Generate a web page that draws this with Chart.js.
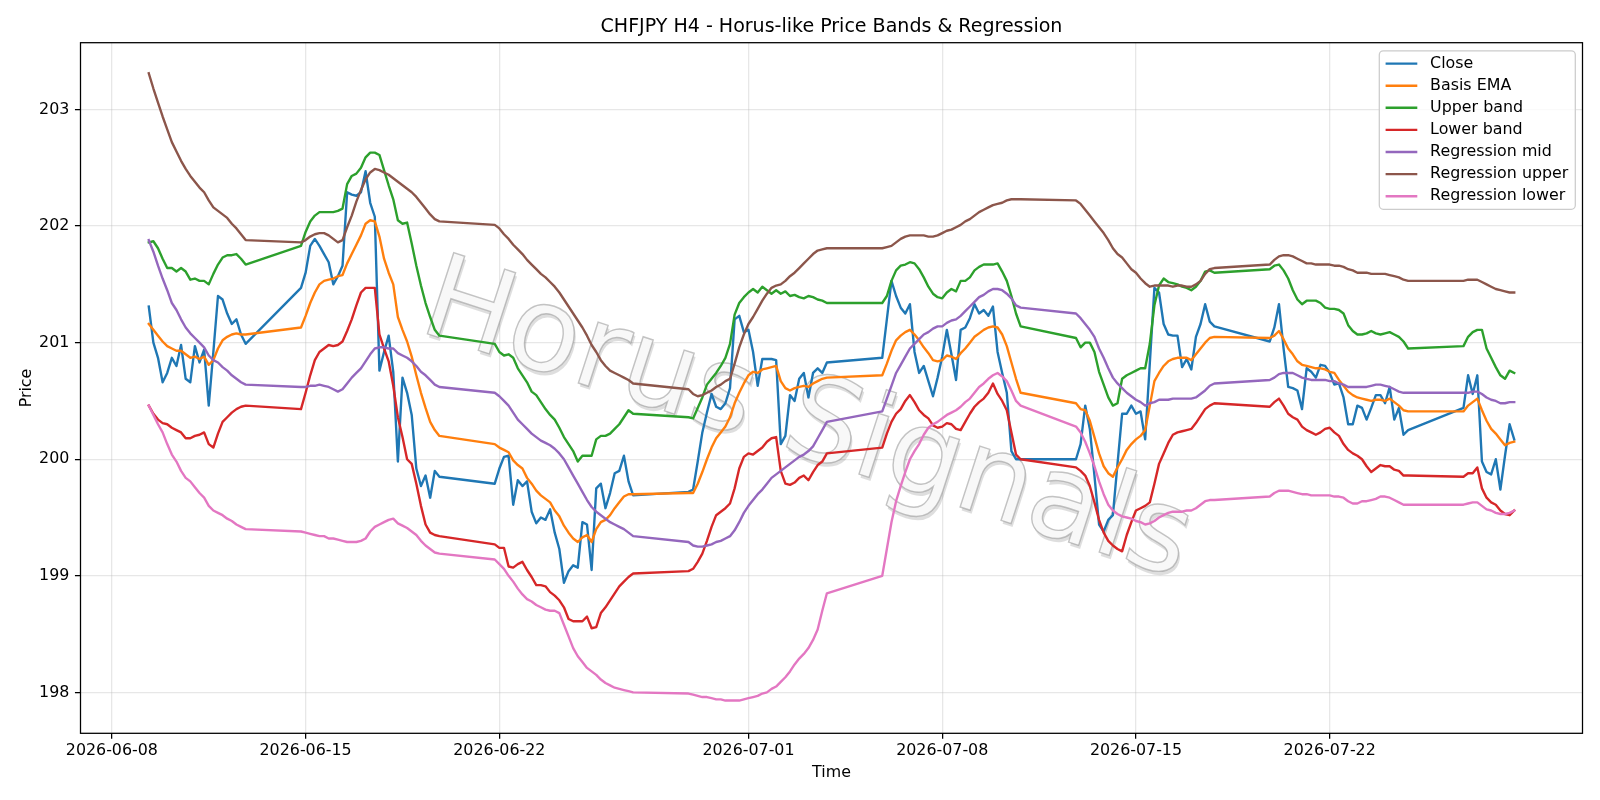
<!DOCTYPE html>
<html lang="en">
<head>
<meta charset="utf-8">
<title>CHFJPY H4 - Horus-like Price Bands &amp; Regression</title>
<script src="https://cdn.jsdelivr.net/npm/chart.js@4.4.1/dist/chart.umd.min.js"></script>
<style>
  html, body { margin: 0; padding: 0; background: #ffffff; }
  #box { width: 1600px; height: 800px; }
</style>
</head>
<body>
<div id="box"><canvas id="chart" width="1600" height="800"></canvas></div>
<script>
// H4 bars: every trading session starts at this time and has this many bars
const sessionStarts = ['2026-06-09 08:00', '2026-06-14 20:00', '2026-06-21 20:00', '2026-06-28 20:00',
                       '2026-07-05 20:00', '2026-07-12 20:00', '2026-07-19 20:00', '2026-07-26 20:00'];
const sessionBars = [22, 31, 31, 31, 31, 31, 31, 12];

const xTickLabels = ['2026-06-08', '2026-06-15', '2026-06-22', '2026-07-01', '2026-07-08', '2026-07-15', '2026-07-22'];
const yTickValues = [198, 199, 200, 201, 202, 203];

// one line per trading week
const close = [
  201.31, 201.00, 200.87, 200.66, 200.74, 200.87, 200.80, 200.98, 200.69, 200.66, 200.97, 200.83, 200.94, 200.46, 200.92, 201.40, 201.37, 201.25, 201.16, 201.20, 201.07, 200.99,
  201.47, 201.60, 201.83, 201.89, 201.83, 201.76, 201.69, 201.50, 201.57, 201.66, 202.29, 202.27, 202.26, 202.29, 202.47, 202.20, 202.08, 200.76, 200.92, 201.06, 200.75, 199.98, 200.70, 200.57, 200.38, 199.92, 199.77, 199.86, 199.67, 199.90, 199.85,
  199.79, 199.92, 200.02, 200.03, 199.61, 199.82, 199.77, 199.81, 199.55, 199.45, 199.50, 199.48, 199.57, 199.37, 199.23, 198.94, 199.04, 199.09, 199.07, 199.46, 199.44, 199.05, 199.75, 199.79, 199.58, 199.71, 199.88, 199.90, 200.03, 199.81, 199.69,
  199.72, 199.74, 199.98, 200.23, 200.40, 200.56, 200.45, 200.43, 200.48, 200.61, 201.20, 201.23, 201.09, 201.11, 200.92, 200.63, 200.86, 200.86, 200.86, 200.85, 200.13, 200.20, 200.55, 200.50, 200.69, 200.74, 200.53, 200.74, 200.78, 200.74, 200.83,
  200.87, 201.20, 201.53, 201.40, 201.30, 201.25, 201.33, 200.92, 200.74, 200.80, 200.67, 200.54, 200.70, 200.88, 201.11, 200.90, 200.68, 201.11, 201.13, 201.21, 201.33, 201.25, 201.28, 201.23, 201.31, 200.92, 200.74, 200.57, 200.07, 200.00, 200.00,
  200.00, 200.13, 200.46, 200.26, 199.86, 199.44, 199.38, 199.48, 199.52, 199.96, 200.39, 200.39, 200.46, 200.39, 200.41, 200.17, 200.82, 201.47, 201.43, 201.16, 201.07, 201.06, 201.06, 200.79, 200.86, 200.77, 201.05, 201.16, 201.33, 201.18, 201.14,
  201.01, 201.13, 201.33, 200.95, 200.62, 200.61, 200.59, 200.43, 200.78, 200.75, 200.70, 200.81, 200.80, 200.74, 200.64, 200.65, 200.53, 200.30, 200.30, 200.46, 200.44, 200.34, 200.44, 200.55, 200.55, 200.48, 200.62, 200.34, 200.44, 200.21, 200.25,
  200.44, 200.72, 200.56, 200.72, 199.98, 199.89, 199.87, 200.00, 199.74, 200.03, 200.30, 200.17
];
const basisEma = [
  201.16, 201.11, 201.06, 201.01, 200.97, 200.95, 200.93, 200.93, 200.90, 200.87, 200.88, 200.86, 200.88, 200.81, 200.85, 200.95, 201.02, 201.05, 201.07, 201.08, 201.07, 201.07,
  201.13, 201.23, 201.34, 201.43, 201.50, 201.53, 201.54, 201.55, 201.57, 201.58, 201.68, 201.76, 201.84, 201.92, 202.02, 202.05, 202.04, 201.91, 201.72, 201.60, 201.50, 201.22, 201.11, 201.01, 200.88, 200.72, 200.57, 200.44, 200.32, 200.25, 200.20,
  200.13, 200.10, 200.08, 200.06, 199.99, 199.95, 199.92, 199.84, 199.79, 199.73, 199.69, 199.66, 199.63, 199.56, 199.51, 199.43, 199.37, 199.32, 199.29, 199.33, 199.35, 199.29, 199.40, 199.46, 199.48, 199.52, 199.58, 199.63, 199.68, 199.70, 199.70,
  199.71, 199.71, 199.79, 199.89, 200.00, 200.10, 200.18, 200.23, 200.28, 200.36, 200.48, 200.57, 200.65, 200.72, 200.75, 200.74, 200.77, 200.78, 200.79, 200.80, 200.67, 200.61, 200.59, 200.61, 200.62, 200.63, 200.62, 200.65, 200.67, 200.69, 200.70,
  200.72, 200.82, 200.93, 201.02, 201.06, 201.09, 201.11, 201.07, 201.02, 200.96, 200.91, 200.85, 200.84, 200.85, 200.89, 200.88, 200.86, 200.91, 200.95, 201.00, 201.05, 201.08, 201.11, 201.13, 201.14, 201.13, 201.07, 200.97, 200.83, 200.69, 200.57,
  200.48, 200.43, 200.42, 200.33, 200.19, 200.05, 199.94, 199.88, 199.85, 199.93, 200.00, 200.08, 200.13, 200.17, 200.20, 200.25, 200.46, 200.67, 200.74, 200.80, 200.84, 200.86, 200.87, 200.87, 200.87, 200.85, 200.90, 200.95, 201.00, 201.04, 201.05,
  201.04, 201.06, 201.10, 201.03, 200.95, 200.90, 200.84, 200.81, 200.80, 200.79, 200.78, 200.78, 200.77, 200.75, 200.74, 200.68, 200.63, 200.58, 200.55, 200.53, 200.52, 200.51, 200.50, 200.51, 200.51, 200.50, 200.52, 200.49, 200.46, 200.42, 200.41,
  200.41, 200.46, 200.49, 200.52, 200.42, 200.33, 200.26, 200.22, 200.17, 200.12, 200.14, 200.15
];
const upperBand = [
  201.86, 201.87, 201.81, 201.72, 201.64, 201.64, 201.61, 201.64, 201.61, 201.54, 201.55, 201.53, 201.53, 201.50, 201.59, 201.67, 201.73, 201.75, 201.75, 201.76, 201.72, 201.67,
  201.83, 201.95, 202.04, 202.09, 202.12, 202.12, 202.12, 202.12, 202.13, 202.15, 202.36, 202.43, 202.45, 202.50, 202.59, 202.63, 202.63, 202.61, 202.48, 202.35, 202.23, 202.05, 202.02, 202.03, 201.85, 201.66, 201.49, 201.34, 201.22, 201.11, 201.06,
  200.99, 200.92, 200.89, 200.90, 200.87, 200.78, 200.72, 200.66, 200.58, 200.55, 200.49, 200.43, 200.38, 200.34, 200.27, 200.19, 200.13, 200.07, 199.98, 200.03, 200.03, 200.03, 200.17, 200.20, 200.20, 200.22, 200.26, 200.30, 200.36, 200.42, 200.39,
  200.36, 200.35, 200.44, 200.53, 200.64, 200.69, 200.74, 200.80, 200.87, 200.99, 201.24, 201.34, 201.39, 201.43, 201.46, 201.43, 201.48, 201.45, 201.42, 201.45, 201.42, 201.44, 201.40, 201.41, 201.39, 201.38, 201.40, 201.39, 201.37, 201.36, 201.34,
  201.34, 201.40, 201.53, 201.62, 201.66, 201.67, 201.69, 201.68, 201.63, 201.56, 201.48, 201.42, 201.39, 201.38, 201.43, 201.46, 201.44, 201.53, 201.53, 201.56, 201.62, 201.65, 201.67, 201.67, 201.67, 201.68, 201.61, 201.53, 201.40, 201.25, 201.14,
  201.04, 200.96, 201.00, 201.00, 200.92, 200.75, 200.64, 200.53, 200.46, 200.48, 200.69, 200.72, 200.74, 200.76, 200.78, 200.78, 200.99, 201.32, 201.49, 201.55, 201.52, 201.51, 201.50, 201.48, 201.47, 201.45, 201.48, 201.53, 201.61, 201.62, 201.60,
  201.63, 201.66, 201.67, 201.62, 201.55, 201.45, 201.37, 201.33, 201.36, 201.36, 201.36, 201.34, 201.30, 201.29, 201.29, 201.28, 201.25, 201.15, 201.10, 201.07, 201.07, 201.08, 201.10, 201.08, 201.07, 201.08, 201.09, 201.07, 201.05, 201.01, 200.95,
  200.97, 201.05, 201.09, 201.11, 201.11, 200.95, 200.87, 200.79, 200.72, 200.69, 200.76, 200.74
];
const lowerBand = [
  200.46, 200.39, 200.34, 200.31, 200.30, 200.27, 200.25, 200.23, 200.18, 200.18, 200.20, 200.21, 200.23, 200.13, 200.10, 200.22, 200.32, 200.36, 200.40, 200.43, 200.45, 200.46,
  200.43, 200.57, 200.72, 200.85, 200.92, 200.95, 200.98, 200.97, 200.98, 201.01, 201.10, 201.20, 201.32, 201.43, 201.47, 201.47, 201.47, 201.07, 200.95, 200.84, 200.63, 200.36, 200.19, 200.00, 199.96, 199.79, 199.60, 199.44, 199.37, 199.35, 199.34,
  199.27, 199.24, 199.24, 199.08, 199.07, 199.10, 199.12, 199.05, 198.99, 198.92, 198.92, 198.91, 198.86, 198.83, 198.79, 198.73, 198.63, 198.61, 198.61, 198.61, 198.65, 198.55, 198.56, 198.68, 198.73, 198.79, 198.85, 198.91, 198.95, 198.99, 199.02,
  199.04, 199.06, 199.12, 199.19, 199.30, 199.42, 199.52, 199.55, 199.58, 199.62, 199.75, 199.92, 200.02, 200.05, 200.04, 200.07, 200.10, 200.15, 200.18, 200.19, 199.90, 199.79, 199.78, 199.80, 199.84, 199.86, 199.82, 199.89, 199.95, 199.98, 200.05,
  200.10, 200.22, 200.32, 200.39, 200.43, 200.50, 200.55, 200.49, 200.42, 200.38, 200.35, 200.29, 200.27, 200.28, 200.31, 200.30, 200.26, 200.25, 200.32, 200.39, 200.45, 200.49, 200.52, 200.57, 200.65, 200.56, 200.50, 200.42, 200.23, 200.04, 200.00,
  199.93, 199.90, 199.86, 199.77, 199.63, 199.48, 199.37, 199.30, 199.26, 199.23, 199.21, 199.35, 199.46, 199.56, 199.58, 199.60, 199.63, 199.79, 199.96, 200.05, 200.14, 200.21, 200.23, 200.24, 200.25, 200.26, 200.31, 200.37, 200.43, 200.46, 200.48,
  200.45, 200.49, 200.52, 200.46, 200.39, 200.36, 200.34, 200.28, 200.25, 200.23, 200.21, 200.23, 200.26, 200.27, 200.23, 200.20, 200.13, 200.08, 200.05, 200.03, 200.00, 199.94, 199.89, 199.92, 199.95, 199.94, 199.94, 199.91, 199.90, 199.86, 199.86,
  199.85, 199.88, 199.88, 199.93, 199.75, 199.67, 199.63, 199.61, 199.56, 199.53, 199.52, 199.56
];
const regressionMid = [
  201.88, 201.78, 201.66, 201.55, 201.45, 201.34, 201.28, 201.20, 201.13, 201.08, 201.04, 201.00, 200.96, 200.89, 200.85, 200.83, 200.79, 200.76, 200.72, 200.69, 200.66, 200.64,
  200.62, 200.62, 200.63, 200.63, 200.64, 200.63, 200.62, 200.60, 200.58, 200.60, 200.65, 200.70, 200.74, 200.78, 200.84, 200.90, 200.95, 200.96, 200.96, 200.95, 200.95, 200.91, 200.89, 200.87, 200.84, 200.80, 200.75, 200.72, 200.68, 200.64, 200.62,
  200.57, 200.54, 200.50, 200.46, 200.40, 200.34, 200.30, 200.26, 200.22, 200.19, 200.16, 200.14, 200.12, 200.09, 200.05, 200.00, 199.93, 199.86, 199.79, 199.72, 199.65, 199.59, 199.55, 199.52, 199.49, 199.46, 199.44, 199.42, 199.40, 199.37, 199.34,
  199.29, 199.26, 199.25, 199.25, 199.26, 199.27, 199.29, 199.30, 199.32, 199.34, 199.39, 199.46, 199.54, 199.60, 199.65, 199.70, 199.74, 199.79, 199.84, 199.87, 199.90, 199.93, 199.96, 199.99, 200.02, 200.04, 200.07, 200.11, 200.18, 200.25, 200.32,
  200.41, 200.52, 200.63, 200.74, 200.81, 200.88, 200.95, 200.99, 201.03, 201.07, 201.09, 201.12, 201.14, 201.14, 201.17, 201.19, 201.20, 201.23, 201.27, 201.31, 201.35, 201.39, 201.41, 201.44, 201.46, 201.46, 201.45, 201.42, 201.38, 201.32, 201.30,
  201.25, 201.21, 201.16, 201.11, 201.05, 200.95, 200.87, 200.78, 200.70, 200.65, 200.61, 200.57, 200.54, 200.51, 200.49, 200.46, 200.48, 200.49, 200.51, 200.51, 200.51, 200.52, 200.52, 200.52, 200.52, 200.52, 200.53, 200.56, 200.59, 200.63, 200.65,
  200.68, 200.70, 200.73, 200.74, 200.74, 200.74, 200.72, 200.70, 200.69, 200.68, 200.68, 200.68, 200.68, 200.67, 200.67, 200.65, 200.64, 200.62, 200.62, 200.62, 200.62, 200.62, 200.63, 200.64, 200.64, 200.63, 200.62, 200.60, 200.58, 200.57, 200.57,
  200.57, 200.57, 200.58, 200.58, 200.56, 200.53, 200.51, 200.50, 200.48, 200.48, 200.49, 200.49
];
const regressionUpper = [
  203.31, 203.18, 203.06, 202.94, 202.83, 202.72, 202.64, 202.56, 202.49, 202.43, 202.38, 202.33, 202.29, 202.22, 202.16, 202.13, 202.10, 202.07, 202.02, 201.98, 201.93, 201.88,
  201.86, 201.88, 201.91, 201.93, 201.94, 201.94, 201.92, 201.89, 201.86, 201.88, 201.99, 202.09, 202.21, 202.31, 202.40, 202.46, 202.49, 202.48, 202.46, 202.44, 202.41, 202.38, 202.35, 202.32, 202.29, 202.25, 202.20, 202.15, 202.10, 202.06, 202.04,
  202.01, 201.98, 201.93, 201.89, 201.84, 201.80, 201.76, 201.71, 201.67, 201.63, 201.59, 201.56, 201.52, 201.48, 201.43, 201.37, 201.31, 201.25, 201.19, 201.13, 201.06, 200.98, 200.92, 200.85, 200.80, 200.76, 200.74, 200.72, 200.70, 200.68, 200.65,
  200.60, 200.56, 200.54, 200.55, 200.57, 200.59, 200.62, 200.64, 200.67, 200.69, 200.82, 200.96, 201.07, 201.16, 201.22, 201.29, 201.36, 201.42, 201.47, 201.49, 201.50, 201.53, 201.57, 201.60, 201.64, 201.68, 201.72, 201.76, 201.79, 201.80, 201.81,
  201.81, 201.82, 201.83, 201.86, 201.89, 201.91, 201.92, 201.92, 201.92, 201.92, 201.91, 201.91, 201.92, 201.94, 201.96, 201.97, 201.99, 202.01, 202.04, 202.06, 202.09, 202.12, 202.14, 202.16, 202.18, 202.19, 202.20, 202.22, 202.23, 202.23, 202.23,
  202.22, 202.19, 202.14, 202.09, 202.04, 201.99, 201.94, 201.88, 201.81, 201.76, 201.73, 201.68, 201.63, 201.60, 201.55, 201.51, 201.48, 201.49, 201.49, 201.49, 201.49, 201.48, 201.49, 201.49, 201.48, 201.48, 201.50, 201.53, 201.59, 201.63, 201.64,
  201.67, 201.71, 201.74, 201.75, 201.75, 201.74, 201.72, 201.70, 201.68, 201.68, 201.67, 201.67, 201.67, 201.67, 201.66, 201.66, 201.65, 201.63, 201.62, 201.60, 201.60, 201.60, 201.59, 201.59, 201.59, 201.59, 201.58, 201.57, 201.56, 201.54, 201.53,
  201.53, 201.54, 201.54, 201.54, 201.52, 201.50, 201.48, 201.46, 201.45, 201.44, 201.43, 201.43
];
const regressionLower = [
  200.46, 200.38, 200.30, 200.23, 200.13, 200.04, 199.98, 199.90, 199.84, 199.81, 199.76, 199.71, 199.67, 199.60, 199.56, 199.54, 199.52, 199.49, 199.47, 199.44, 199.42, 199.40,
  199.38, 199.37, 199.36, 199.35, 199.34, 199.34, 199.32, 199.32, 199.31, 199.30, 199.29, 199.29, 199.29, 199.30, 199.32, 199.38, 199.42, 199.44, 199.46, 199.48, 199.49, 199.45, 199.43, 199.41, 199.38, 199.35, 199.30, 199.26, 199.23, 199.20, 199.19,
  199.14, 199.10, 199.06, 199.00, 198.95, 198.89, 198.84, 198.80, 198.78, 198.75, 198.73, 198.71, 198.70, 198.70, 198.68, 198.58, 198.48, 198.38, 198.31, 198.26, 198.21, 198.18, 198.15, 198.11, 198.08, 198.06, 198.04, 198.03, 198.02, 198.01, 198.00,
  197.99, 197.98, 197.97, 197.96, 197.96, 197.95, 197.94, 197.94, 197.93, 197.93, 197.93, 197.93, 197.94, 197.95, 197.96, 197.97, 197.99, 198.00, 198.03, 198.05, 198.09, 198.13, 198.18, 198.24, 198.29, 198.33, 198.38, 198.45, 198.54, 198.70, 198.85,
  199.00, 199.23, 199.46, 199.64, 199.77, 199.89, 200.00, 200.07, 200.13, 200.21, 200.27, 200.30, 200.32, 200.35, 200.38, 200.40, 200.42, 200.45, 200.49, 200.52, 200.57, 200.62, 200.65, 200.69, 200.72, 200.74, 200.71, 200.67, 200.59, 200.50, 200.46,
  200.28, 200.23, 200.15, 200.05, 199.94, 199.81, 199.70, 199.61, 199.56, 199.53, 199.51, 199.50, 199.49, 199.47, 199.46, 199.44, 199.45, 199.47, 199.50, 199.52, 199.54, 199.55, 199.55, 199.55, 199.56, 199.56, 199.58, 199.61, 199.64, 199.65, 199.65,
  199.68, 199.71, 199.73, 199.73, 199.73, 199.72, 199.71, 199.70, 199.70, 199.69, 199.69, 199.69, 199.69, 199.69, 199.68, 199.68, 199.67, 199.64, 199.62, 199.62, 199.64, 199.64, 199.65, 199.66, 199.68, 199.68, 199.67, 199.65, 199.63, 199.61, 199.61,
  199.61, 199.62, 199.63, 199.63, 199.60, 199.57, 199.56, 199.54, 199.53, 199.53, 199.54, 199.56
];

const seriesList = [
  ['Close', close, '#1f77b4'],
  ['Basis EMA', basisEma, '#ff7f0e'],
  ['Upper band', upperBand, '#2ca02c'],
  ['Lower band', lowerBand, '#d62728'],
  ['Regression mid', regressionMid, '#9467bd'],
  ['Regression upper', regressionUpper, '#8c564b'],
  ['Regression lower', regressionLower, '#e377c2']
];

// time axis in days since 2026-06-08 00:00
const T0 = Date.UTC(2026, 5, 8);
function toDays(s) {
  const [d, t = '00:00'] = s.split(' ');
  const [Y, M, D] = d.split('-').map(Number);
  const [h, m] = t.split(':').map(Number);
  return (Date.UTC(Y, M - 1, D, h, m) - T0) / 86400000;
}
const barTimes = [];
sessionStarts.forEach((s, i) => {
  const start = toDays(s);
  for (let k = 0; k < sessionBars[i]; k++) barTimes.push(start + k / 6);
});
const xTickValues = xTickLabels.map(d => toDays(d));
const xPad = 0.05 * (barTimes[barTimes.length - 1] - barTimes[0]);

seriesList.forEach(([name, vals]) => {
  if (vals.length !== barTimes.length) console.error(name, vals.length, barTimes.length);
});

const FAMILY = "'DejaVu Sans', sans-serif";
const FONT_PX = 15.87;
const GRID = 'rgba(176,176,176,0.3)';

Chart.defaults.font.family = FAMILY;
Chart.defaults.font.size = FONT_PX;
Chart.defaults.color = '#000';

// faint rotated "Horus Signals" behind the lines
const watermark = {
  id: 'watermark',
  beforeDatasetsDraw(chart) {
    const {ctx, chartArea: a} = chart;
    ctx.save();
    ctx.beginPath();
    ctx.rect(a.left, a.top, a.right - a.left, a.bottom - a.top);
    ctx.clip();
    ctx.translate(797, 454);
    ctx.rotate(18 * Math.PI / 180);
    ctx.font = '117px ' + FAMILY;
    ctx.textAlign = 'center';
    ctx.textBaseline = 'alphabetic';
    ctx.fillStyle = 'rgba(0,0,0,0.13)';
    ctx.fillText('Horus Signals', 2.5, 3);
    ctx.fillStyle = 'rgba(248,248,248,1)';
    ctx.fillText('Horus Signals', 0, 0);
    ctx.lineWidth = 1.4;
    ctx.strokeStyle = 'rgba(140,140,140,0.5)';
    ctx.strokeText('Horus Signals', 0, 0);
    ctx.restore();
  }
};

// axes frame on all four sides
const frame = {
  id: 'frame',
  afterDatasetsDraw(chart) {
    const {ctx, chartArea: a} = chart;
    ctx.save();
    ctx.strokeStyle = '#000';
    ctx.lineWidth = 1.27;
    ctx.strokeRect(a.left, a.top, a.right - a.left, a.bottom - a.top);
    ctx.restore();
  }
};

// legend box in the upper right corner of the plot
const boxLegend = {
  id: 'boxLegend',
  afterDraw(chart) {
    const {ctx, chartArea: a} = chart;
    const w = 196, h = 158.5;
    const left = a.right - 7.2 - w, top = a.top + 8.1;
    ctx.save();
    ctx.beginPath();
    if (ctx.roundRect) ctx.roundRect(left, top, w, h, 4); else ctx.rect(left, top, w, h);
    ctx.fillStyle = 'rgba(255,255,255,0.8)';
    ctx.fill();
    ctx.strokeStyle = '#cccccc';
    ctx.lineWidth = 1.27;
    ctx.stroke();
    ctx.font = FONT_PX + 'px ' + FAMILY;
    ctx.textBaseline = 'middle';
    ctx.textAlign = 'left';
    seriesList.forEach(([label, , color], i) => {
      const y = top + 12.8 + i * 22.1;
      ctx.beginPath();
      ctx.moveTo(left + 6.3, y);
      ctx.lineTo(left + 38.0, y);
      ctx.strokeStyle = color;
      ctx.lineWidth = 2.38;
      ctx.stroke();
      ctx.fillStyle = '#000';
      ctx.fillText(label, left + 50.8, y);
    });
    ctx.restore();
  }
};

const datasets = seriesList.map(([label, values, color], i) => ({
  label: label,
  data: barTimes.map((t, j) => ({x: t, y: values[j]})),
  borderColor: color,
  backgroundColor: color,
  borderWidth: 2.38,
  borderJoinStyle: 'round',
  borderCapStyle: 'square',
  pointRadius: 0,
  pointHoverRadius: 0,
  tension: 0,
  fill: false,
  order: seriesList.length - i
}));

new Chart(document.getElementById('chart'), {
  type: 'line',
  data: { datasets: datasets },
  plugins: [watermark, frame, boxLegend],
  options: {
    responsive: false,
    animation: false,
    events: [],
    devicePixelRatio: 1,
    layout: { padding: { left: 0, right: 17.5, top: 0, bottom: 0 } },
    plugins: {
      legend: { display: false },
      tooltip: { enabled: false },
      title: {
        display: true,
        fullSize: false,
        text: 'CHFJPY H4 - Horus-like Price Bands & Regression',
        color: '#000',
        font: { family: FAMILY, size: 19.05, weight: 'normal' },
        padding: { top: 15.2, bottom: 4.64 }
      }
    },
    scales: {
      x: {
        type: 'linear',
        min: barTimes[0] - xPad,
        max: barTimes[barTimes.length - 1] + xPad,
        afterBuildTicks: s => { s.ticks = xTickValues.map(v => ({value: v})); },
        afterFit: s => { s.height = 66.7; },
        ticks: {
          autoSkip: false,
          maxRotation: 0,
          padding: 2.1,
          color: '#000',
          callback: (v, i) => xTickLabels[i]
        },
        grid: { color: GRID, lineWidth: 1.27, tickColor: '#000', tickLength: 5.56, tickWidth: 1.27 },
        border: { display: false },
        title: { display: true, text: 'Time', color: '#000', padding: { top: 0, bottom: 17.2 } }
      },
      y: {
        type: 'linear',
        min: 197.649,
        max: 203.573,
        afterBuildTicks: s => { s.ticks = yTickValues.map(v => ({value: v})); },
        afterFit: s => { s.width = 80.5; },
        ticks: { padding: 5.6, color: '#000', callback: v => String(v) },
        grid: { color: GRID, lineWidth: 1.27, tickColor: '#000', tickLength: 5.56, tickWidth: 1.27 },
        border: { display: false },
        title: { display: true, text: 'Price', color: '#000', padding: { top: 16.9, bottom: 0 } }
      }
    }
  }
});
</script>
</body>
</html>
